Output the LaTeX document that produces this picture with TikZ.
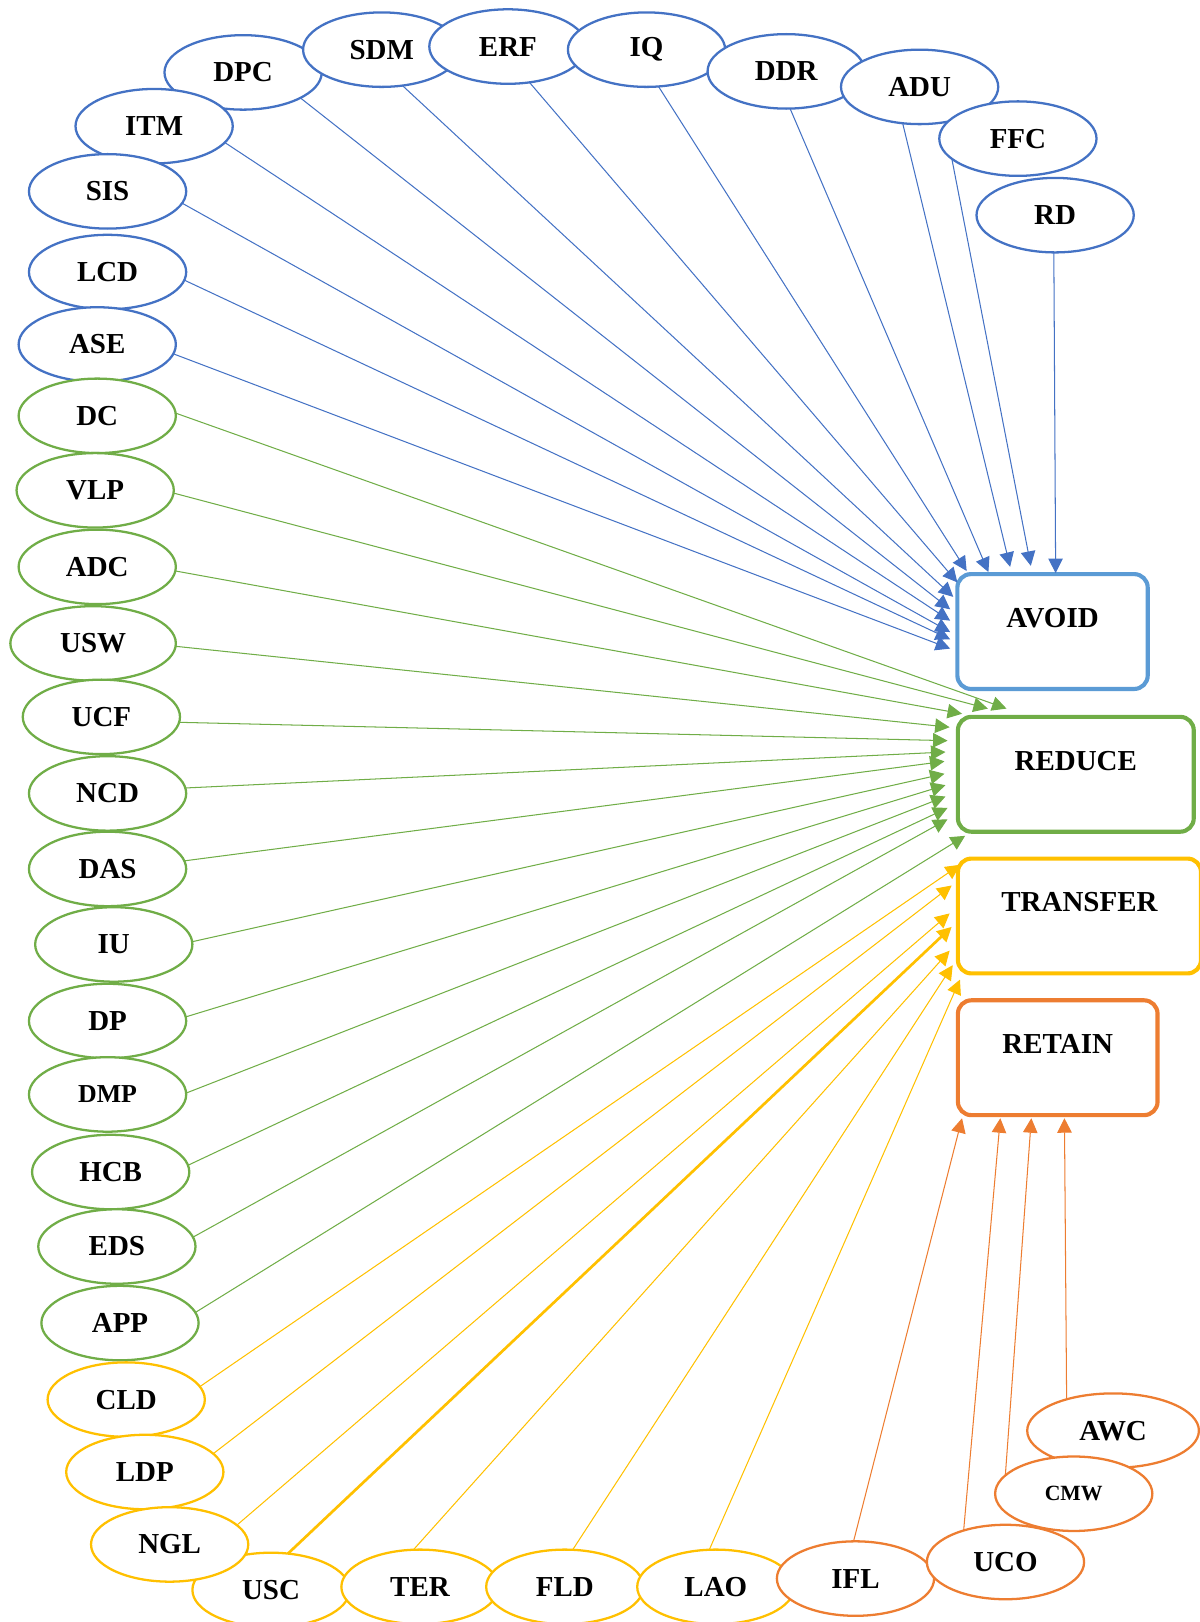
\documentclass[tikz,border=0pt]{standalone}
\usepackage{fontspec}
\setmainfont{Liberation Serif}
\usetikzlibrary{arrows.meta,calc,shapes.geometric}
\definecolor{avoidblue}{RGB}{68,114,196}
\definecolor{boxblue}{RGB}{91,155,213}
\definecolor{reducegreen}{RGB}{112,173,71}
\definecolor{transferyellow}{RGB}{255,192,0}
\definecolor{retainorange}{RGB}{237,125,49}
\tikzset{
    ell/.style={ellipse, draw=#1, fill=white, line width=1.1pt, inner sep=0pt, outer sep=0pt,
                minimum width=76pt, minimum height=36pt,
                font=\bfseries\fontsize{14}{16}\selectfont},
    box/.style={rectangle, draw=#1, line width=2pt, rounded corners=6.5pt, inner sep=0pt,
                outer sep=0pt, minimum height=55.5pt, text height=10pt, text depth=14pt,
                font=\bfseries\fontsize{14}{16}\selectfont},
    arr/.style={-{Triangle[length=7pt,width=7pt]}, line width=0.5pt, draw=#1},
}

\begin{document}
\begin{tikzpicture}[x=0.5pt, y=-0.5pt]
    \clip (0,0) rectangle (1160,1568);

    % avoid group
    \node[ell=avoidblue] (dpc) at (235,70)   {DPC};
    \node[ell=avoidblue] (sdm) at (369,48)   {SDM};
    \node[ell=avoidblue] (erf) at (491,45)   {ERF};
    \node[ell=avoidblue] (iq)  at (625,48)   {IQ};
    \node[ell=avoidblue] (ddr) at (760,69)   {DDR};
    \node[ell=avoidblue] (adu) at (889,84)   {ADU};
    \node[ell=avoidblue] (ffc) at (984,134)  {FFC};
    \node[ell=avoidblue] (rd)  at (1020,208) {RD};
    \node[ell=avoidblue] (itm) at (149,122)  {ITM};
    \node[ell=avoidblue] (sis) at (104,185)  {SIS};
    \node[ell=avoidblue] (lcd) at (104,263)  {LCD};
    \node[ell=avoidblue] (ase) at (94,333)   {ASE};

    % reduce group
    \node[ell=reducegreen] (dc)  at (94,402)   {DC};
    \node[ell=reducegreen] (vlp) at (92,474)   {VLP};
    \node[ell=reducegreen] (adc) at (94,548)   {ADC};
    \node[ell=reducegreen, minimum width=80pt] (usw) at (90,622) {USW};
    \node[ell=reducegreen] (ucf) at (98,693)   {UCF};
    \node[ell=reducegreen] (ncd) at (104,767)  {NCD};
    \node[ell=reducegreen] (das) at (104,840)  {DAS};
    \node[ell=reducegreen] (iu)  at (110,913)  {IU};
    \node[ell=reducegreen] (dp)  at (104,987)  {DP};
    \node[ell=reducegreen, font=\bfseries\fontsize{12.5}{14}\selectfont] (dmp) at (104,1058) {DMP};
    \node[ell=reducegreen] (hcb) at (107,1133) {HCB};
    \node[ell=reducegreen] (eds) at (113,1205) {EDS};
    \node[ell=reducegreen] (app) at (116,1279) {APP};

    % transfer group
    \node[ell=transferyellow] (cld) at (122,1353) {CLD};
    \node[ell=transferyellow] (ldp) at (140,1423) {LDP};
    \node[ell=transferyellow] (usc) at (262,1537) {USC};
    \node[ell=transferyellow] (ngl) at (164,1493) {NGL};
    \node[ell=transferyellow] (ter) at (406,1534) {TER};
    \node[ell=transferyellow] (fld) at (546,1534) {FLD};
    \node[ell=transferyellow] (lao) at (692,1534) {LAO};

    % retain group
    \node[ell=retainorange] (ifl) at (827,1526) {IFL};
    \node[ell=retainorange] (uco) at (972,1510) {UCO};
    \node[ell=retainorange, minimum width=83pt] (awc) at (1076,1383) {AWC};
    \node[ell=retainorange, font=\bfseries\fontsize{10.5}{12}\selectfont] (cmw) at (1038,1444) {CMW};

    % the four strategies
    \node[box=boxblue,        minimum width=92pt]    (avoid)    at (1017.5,610.5) {AVOID};
    \node[box=reducegreen,    minimum width=114pt]   (reduce)   at (1040,748.5)   {REDUCE};
    \node[box=transferyellow, minimum width=117.5pt] (transfer) at (1043.5,885.5) {TRANSFER};
    \node[box=retainorange,   minimum width=96.5pt]  (retain)   at (1022.5,1022.5) {RETAIN};

    \draw[arr=avoidblue] (rd.268)  -- ($(avoid.north west)+(95,-1)$);
    \draw[arr=avoidblue] (ffc.197) -- ($(avoid.north west)+(71,-8)$);
    \draw[arr=avoidblue] (adu.245) -- ($(avoid.north west)+(51,-7)$);
    \draw[arr=avoidblue] (ddr.276) -- ($(avoid.north west)+(30,-2)$);
    \draw[arr=avoidblue] (iq.288)  -- ($(avoid.north west)+(9,-3)$);
    \draw[arr=avoidblue] (erf.301) -- ($(avoid.north west)+(0,8)$);
    \draw[arr=avoidblue] (sdm.300) -- ($(avoid.north west)+(-4,22)$);
    \draw[arr=avoidblue] (dpc.336) -- ($(avoid.north west)+(-7,34)$);
    \draw[arr=avoidblue] (itm.347) -- ($(avoid.north west)+(-7,45)$);
    \draw[arr=avoidblue] (sis.351) -- ($(avoid.north west)+(-7,56)$);
    \draw[arr=avoidblue] (lcd.354) -- ($(avoid.north west)+(-7,63)$);
    \draw[arr=avoidblue] (ase.353) -- ($(avoid.north west)+(-7,72)$);

    \draw[arr=reducegreen] (dc.2)    -- ($(reduce.north west)+(47,-8)$);
    \draw[arr=reducegreen] (vlp.358) -- ($(reduce.north west)+(29,-8)$);
    \draw[arr=reducegreen] (adc.357) -- ($(reduce.north west)+(4,-3)$);
    \draw[arr=reducegreen] (usw.358) -- ($(reduce.north west)+(-8,10)$);
    \draw[arr=reducegreen] (ucf.356) -- ($(reduce.north west)+(-10,23)$);
    \draw[arr=reducegreen] (ncd.4)   -- ($(reduce.north west)+(-12,34)$);
    \draw[arr=reducegreen] (das.6)   -- ($(reduce.north west)+(-13,43)$);
    \draw[arr=reducegreen] (iu.2)    -- ($(reduce.north west)+(-13,55)$);
    \draw[arr=reducegreen] (dp.3)    -- ($(reduce.north west)+(-12,66)$);
    \draw[arr=reducegreen] (dmp.1)   -- ($(reduce.north west)+(-12,77)$);
    \draw[arr=reducegreen] (hcb.5)   -- ($(reduce.north west)+(-10,88)$);
    \draw[arr=reducegreen] (eds.7)   -- ($(reduce.north west)+(-10,99)$);
    \draw[arr=reducegreen] (app.8)   -- ($(reduce.north west)+(7,115)$);

    \draw[arr=transferyellow] (cld.10)  -- ($(transfer.north west)+(2,6)$);
    \draw[arr=transferyellow] (ldp.15)  -- ($(transfer.north west)+(-6,26)$);
    \draw[arr=transferyellow] (ngl.16)  -- ($(transfer.north west)+(-8,53)$);
    \draw[arr=transferyellow, line width=1.3pt] (usc.65) -- ($(transfer.north west)+(-6,66)$);
    \draw[arr=transferyellow] (ter.100) -- ($(transfer.north west)+(-8,89)$);
    \draw[arr=transferyellow] (fld.78)  -- ($(transfer.north west)+(-5,103)$);
    \draw[arr=transferyellow] (lao.100) -- ($(transfer.north west)+(2,117)$);

    \draw[arr=retainorange] (ifl.93)  -- ($(retain.south west)+(4,3)$);
    \draw[arr=retainorange] (uco.143) -- ($(retain.south west)+(41,3)$);
    \draw[arr=retainorange] (cmw.165) -- ($(retain.south west)+(71,3)$);
    \draw[arr=retainorange] (awc.146) -- ($(retain.south west)+(103,3)$);
\end{tikzpicture}
\end{document}
